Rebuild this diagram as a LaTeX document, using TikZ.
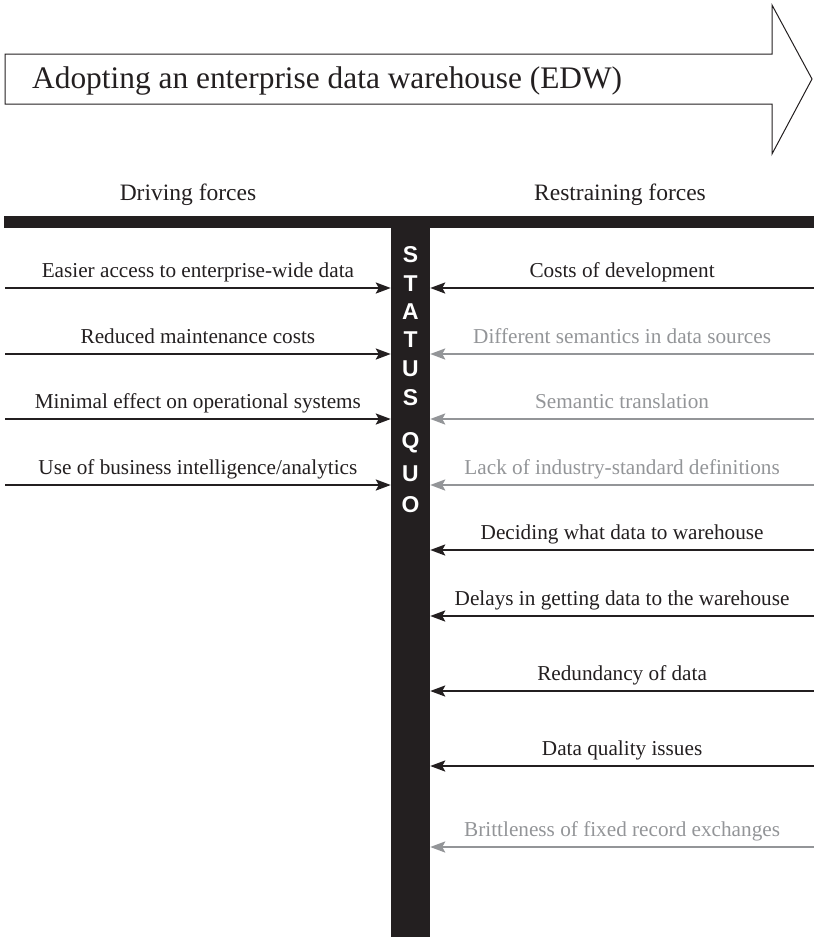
\documentclass[tikz,border=0pt]{standalone}
\usepackage{fontspec}
\setmainfont{Liberation Serif}
\newfontfamily\barfont{Liberation Sans}
\usetikzlibrary{arrows.meta}
\definecolor{ink}{HTML}{231F20}
\definecolor{mute}{HTML}{939598}

\begin{document}
\begin{tikzpicture}[x=1bp,y=-1bp,
  force/.style={line width=2.4bp, -{Stealth[length=15bp,width=11bp,inset=3bp]}},
  strong/.style={force, color=ink},
  weak/.style={force, color=mute},
  lbl/.style={midway, anchor=base, yshift=11bp, inner sep=0,
              font=\fontsize{21.3}{25}\selectfont},
  head/.style={font=\fontsize{23.6}{28}\selectfont, text=ink, inner sep=0},
  sq/.style={font=\barfont\bfseries\fontsize{23}{26}\selectfont, text=white, inner sep=0}]
\useasboundingbox (0,0) rectangle (814,937);

% goal arrow with its caption
\draw[ink, line width=1bp, line join=miter]
  (5,54) -- (772,54) -- (772,5) -- (812,79) -- (772,154) -- (772,104) -- (5,104) -- cycle;
\node[anchor=base west, inner sep=0, text=ink, font=\fontsize{31.5}{36}\selectfont] (goal) at (32,88)
  {Adopting an enterprise data warehouse (EDW)};

% column headings
\node[head] (drv) at (188,195) {Driving forces};
\node[head] (rst) at (620,195) {Restraining forces};

% the T-shaped status quo barrier
\fill[ink] (4,216) rectangle (814,228);
\node[fill=ink, minimum width=39bp, minimum height=709bp, inner sep=0, anchor=north]
  (bar) at (410.5,228) {};
\node[sq] (q1) at (410.5,255) {S};
\node[sq] (q2) at (410.5,284) {T};
\node[sq] (q3) at (410.5,312) {A};
\node[sq] (q4) at (410.5,340) {T};
\node[sq] (q5) at (410.5,369) {U};
\node[sq] (q6) at (410.5,398) {S};
\node[sq] (q7) at (410.5,443) {Q};
\node[sq] (q8) at (410.5,474) {U};
\node[sq] (q9) at (410.5,505) {O};

% driving forces, pushing right
\coordinate (d1) at (5,288);
\coordinate (d2) at (5,354);
\coordinate (d3) at (5,419);
\coordinate (d4) at (5,485);
\draw[strong] (d1) -- (d1 -| bar.west) node[lbl] {Easier access to enterprise-wide data};
\draw[strong] (d2) -- (d2 -| bar.west) node[lbl] {Reduced maintenance costs};
\draw[strong] (d3) -- (d3 -| bar.west) node[lbl] {Minimal effect on operational systems};
\draw[strong] (d4) -- (d4 -| bar.west) node[lbl] {Use of business intelligence/analytics};

% restraining forces, pushing left
\coordinate (r1) at (814,288);
\coordinate (r2) at (814,354);
\coordinate (r3) at (814,419);
\coordinate (r4) at (814,485);
\coordinate (r5) at (814,550);
\coordinate (r6) at (814,616);
\coordinate (r7) at (814,691);
\coordinate (r8) at (814,766);
\coordinate (r9) at (814,847);
\draw[strong] (r1) -- (r1 -| bar.east) node[lbl] {Costs of development};
\draw[weak]   (r2) -- (r2 -| bar.east) node[lbl] {Different semantics in data sources};
\draw[weak]   (r3) -- (r3 -| bar.east) node[lbl] {Semantic translation};
\draw[weak]   (r4) -- (r4 -| bar.east) node[lbl] {Lack of industry-standard definitions};
\draw[strong] (r5) -- (r5 -| bar.east) node[lbl] {Deciding what data to warehouse};
\draw[strong] (r6) -- (r6 -| bar.east) node[lbl] {Delays in getting data to the warehouse};
\draw[strong] (r7) -- (r7 -| bar.east) node[lbl] {Redundancy of data};
\draw[strong] (r8) -- (r8 -| bar.east) node[lbl] {Data quality issues};
\draw[weak]   (r9) -- (r9 -| bar.east) node[lbl] {Brittleness of fixed record exchanges};
\end{tikzpicture}
\end{document}
